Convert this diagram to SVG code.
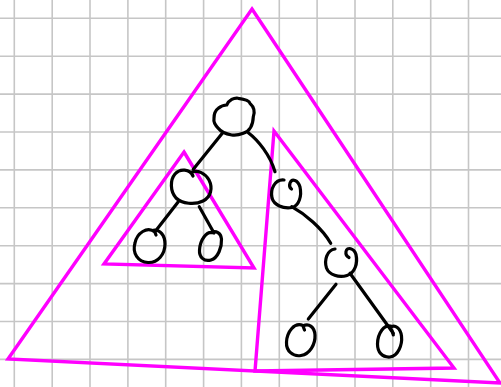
<svg xmlns="http://www.w3.org/2000/svg" width="501" height="387" viewBox="0 0 501 387">
  <style>
    .grid line { stroke: #c6c6c6; stroke-width: 1.6; }
    .tri { fill: none; stroke: #ff00ff; stroke-width: 3.4; stroke-linejoin: miter; }
    .node path, .edge { fill: none; stroke: #000; stroke-width: 3.2; stroke-linecap: round; stroke-linejoin: round; }
  </style>
  <rect width="501" height="387" fill="#fff"/>
  <g class="grid" id="grid">
    <line x1="14.3" y1="0" x2="14.3" y2="387"/>
    <line x1="52.2" y1="0" x2="52.2" y2="387"/>
    <line x1="90.0" y1="0" x2="90.0" y2="387"/>
    <line x1="127.9" y1="0" x2="127.9" y2="387"/>
    <line x1="165.7" y1="0" x2="165.7" y2="387"/>
    <line x1="203.6" y1="0" x2="203.6" y2="387"/>
    <line x1="241.4" y1="0" x2="241.4" y2="387"/>
    <line x1="279.3" y1="0" x2="279.3" y2="387"/>
    <line x1="317.1" y1="0" x2="317.1" y2="387"/>
    <line x1="355.0" y1="0" x2="355.0" y2="387"/>
    <line x1="392.8" y1="0" x2="392.8" y2="387"/>
    <line x1="430.7" y1="0" x2="430.7" y2="387"/>
    <line x1="468.5" y1="0" x2="468.5" y2="387"/>
    <line x1="0" y1="18.3" x2="501" y2="18.3"/>
    <line x1="0" y1="56.2" x2="501" y2="56.2"/>
    <line x1="0" y1="94.1" x2="501" y2="94.1"/>
    <line x1="0" y1="132.0" x2="501" y2="132.0"/>
    <line x1="0" y1="169.9" x2="501" y2="169.9"/>
    <line x1="0" y1="207.8" x2="501" y2="207.8"/>
    <line x1="0" y1="245.7" x2="501" y2="245.7"/>
    <line x1="0" y1="283.6" x2="501" y2="283.6"/>
    <line x1="0" y1="321.5" x2="501" y2="321.5"/>
    <line x1="0" y1="359.4" x2="501" y2="359.4"/>
  </g>
  <g id="triangles">
    <polygon id="tri-whole" class="tri" points="252,9 500,383 8,359"/>
    <polygon id="tri-left" class="tri" points="184,152 254,268 104,264"/>
    <polygon id="tri-right" class="tri" points="274,131 454,368 255,371"/>
  </g>
  <g id="connectors">
    <path class="edge" d="M222.7,132.7 L193.3,169.3"/>
    <path class="edge" d="M248.3,132.7 C258,140 270,155 275,171.7"/>
    <path class="edge" d="M178.3,201.7 L155,231.7"/>
    <path class="edge" d="M199.3,206.7 L213.3,231.7"/>
    <path class="edge" d="M291.7,206.7 C305,214 322,228 330.7,243.3"/>
    <path class="edge" d="M336,284.3 L308.3,319"/>
    <path class="edge" d="M350,273.3 L393.3,333.3"/>
  </g>
  <g id="root" class="node">
    <path d="M226.7,105 C229,100 234,97.5 238.3,98.3 C244,99 249,100 250,103.3 C254,107 255,112 253.3,116.7 C253,125 250,131 243.3,133.3 C239,135 235,135.5 231.7,135 C226,134 221,132 218.3,128.3 C215,125 213.5,121 214,118.3 C214,113 216,110 218.3,108.3 C221,106 224,105 226.7,105 Z"/>
  </g>
  <g id="left-child" class="node">
    <path d="M193,176 C190,169 180,168 175,174 C170,180 170,191 176,198 C182,204 195,205 203,201 C211,197 213,188 209,180 C205,173 198,170 192,172"/>
  </g>
  <g id="left-left-leaf" class="node">
    <path d="M155,232 C147,226 137,233 135,243 C132,253 138,262 148,262.5 C158,263 165,254 165,244 C165,235 160,230 154,230 L156,235"/>
  </g>
  <g id="left-right-leaf" class="node">
    <path d="M214,233 C206,230 200,241 199.5,250 C199,257 204,262 211,260 C218,258 222,247 221.5,239 C221,233 216,230 211,232.5"/>
  </g>
  <g id="right-child" class="node">
    <path d="M284,180 C275,179 270,189 272,198 C274,205 283,209 292,207.5 C299,206 302,196 300,187 C298,180 292,178 290,183 C289,186 290,188 291.5,189"/>
  </g>
  <g id="right-right-child" class="node">
    <path d="M335,249 C327,250 324,260 326.5,268 C329,275 339,278 347,275.5 C355,273 358,263 356,254.5 C354,248 347,246.5 346,251.5 C345.5,254.5 347,256.5 349,257.5"/>
  </g>
  <g id="right-left-leaf" class="node">
    <path d="M303,325.5 C294,322 287,332 286.5,342 C286,351 293,357 301,355.5 C310,354 315.5,344 315,335 C314.5,327 309,323 303,326 L304.5,330"/>
  </g>
  <g id="right-right-leaf" class="node">
    <path d="M392,326.5 C384,323 377.5,334 377.5,344 C377.5,352 382,357.5 390,357 C398,356 402.5,345 401.5,336 C400.5,328 395,324 390,327.5 C392,330 393,333 393.3,335"/>
  </g>
</svg>
